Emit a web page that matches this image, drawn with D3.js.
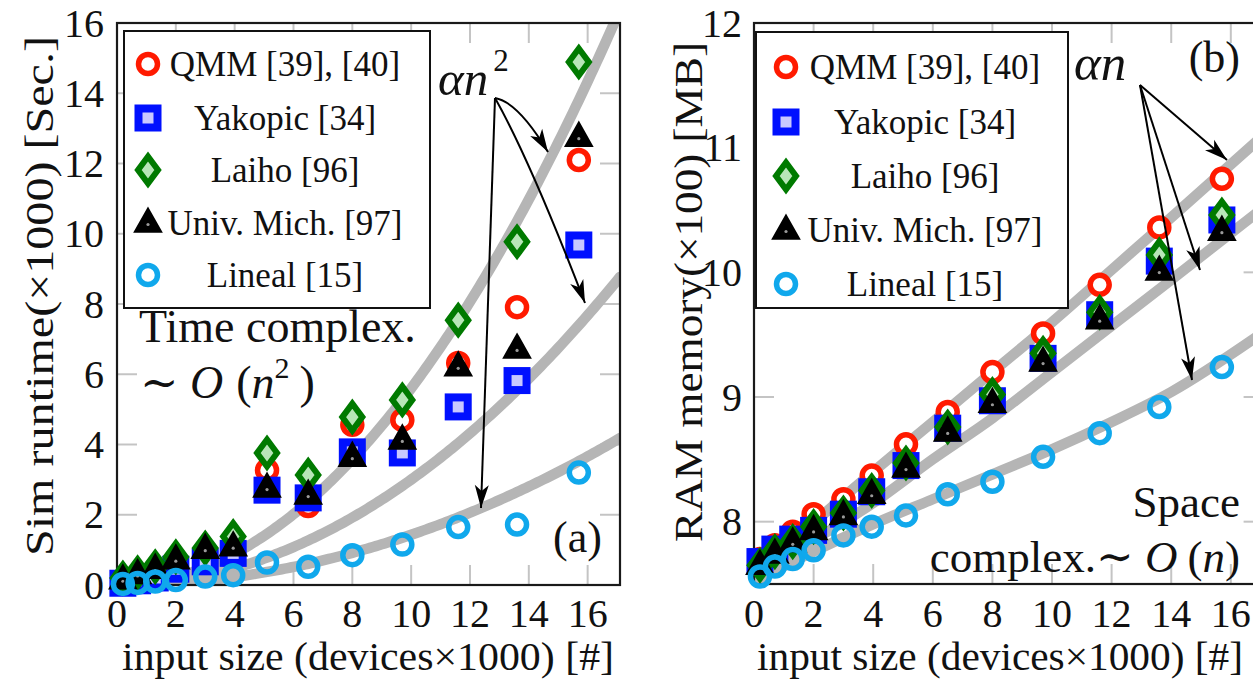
<!DOCTYPE html>
<html>
<head>
<meta charset="utf-8">
<script src="https://cdn.jsdelivr.net/npm/d3@7"></script>
<style>
  html, body { margin: 0; padding: 0; background: #fff; }
  svg { display: block; font-family: "Liberation Serif", "DejaVu Serif", serif; }
</style>
</head>
<body>
<svg id="chart" width="1253" height="684"></svg>
<script>
// ---- data ----
const seriesNames = ["QMM [39], [40]", "Yakopic [34]", "Laiho [96]", "Univ. Mich. [97]", "Lineal [15]"];
const devices = [0.2, 0.7, 1.3, 2, 3, 3.95, 5.1, 6.5, 8, 9.7, 11.6, 13.6, 15.7]; // ×1000

// simulation runtime (×1000 s)
const runtimeQMM     = [0.10, 0.20, 0.30, 0.50, 0.80, 1.00, 3.27, 2.25, 4.56, 4.70, 6.32, 7.91, 12.10];
const runtimeYakopic = [0.05, 0.12, 0.20, 0.45, 0.66, 0.90, 2.70, 2.48, 3.79, 3.76, 5.07, 5.82, 9.68];
const runtimeLaiho   = [0.20, 0.35, 0.52, 0.80, 1.05, 1.38, 3.76, 3.13, 4.78, 5.27, 7.54, 9.77, 14.89];
const runtimeMich    = [0.15, 0.30, 0.45, 0.72, 1.02, 1.09, 2.76, 2.56, 3.64, 4.13, 6.21, 6.72, 12.75];
const runtimeLineal  = [0.03, 0.06, 0.10, 0.14, 0.24, 0.28, 0.64, 0.52, 0.85, 1.15, 1.65, 1.72, 3.20];

// RAM memory (×100 MB)
const memoryQMM      = [7.70, 7.81, 7.92, 8.06, 8.18, 8.37, 8.62, 8.88, 9.20, 9.51, 9.90, 10.36, 10.75];
const memoryYakopic  = [7.68, 7.78, 7.86, 7.93, 8.06, 8.24, 8.45, 8.75, 8.97, 9.31, 9.66, 10.09, 10.42];
const memoryLaiho    = [7.65, 7.76, 7.84, 7.96, 8.07, 8.25, 8.47, 8.76, 9.02, 9.35, 9.68, 10.14, 10.46];
const memoryMich     = [7.65, 7.74, 7.83, 7.93, 8.05, 8.22, 8.43, 8.72, 8.95, 9.28, 9.62, 10.01, 10.33];
const memoryLineal   = [7.56, 7.64, 7.70, 7.77, 7.89, 7.96, 8.05, 8.22, 8.32, 8.52, 8.71, 8.92, 9.24];

// quadratic trend coefficients (alpha in alpha*n^2) for the runtime panel
const runtimeFitAlpha = [0.056, 0.030, 0.0143];
// linear trend bands for the memory panel
const memoryFitX      = [0, 2, 4, 6, 8, 10, 12, 14, 17.1];
const memoryFitUpper  = [7.56, 7.99, 8.40, 8.80, 9.20, 9.60, 10.02, 10.44, 11.10];
const memoryFitMiddle = [7.55, 7.85, 8.15, 8.50, 8.83, 9.20, 9.57, 9.94, 10.52];
const memoryFitLower  = [7.52, 7.76, 7.98, 8.18, 8.38, 8.58, 8.80, 9.04, 9.52];

const xTicks = [0, 2, 4, 6, 8, 10, 12, 14, 16];
const runtimeTicks = [0, 2, 4, 6, 8, 10, 12, 14, 16];
const memoryTicks = [8, 9, 10, 11, 12];

// ---- drawing ----
const svg = d3.select("#chart");
const defs = svg.append("defs");

defs.append("marker")
  .attr("id", "stealth")
  .attr("markerUnits", "userSpaceOnUse")
  .attr("viewBox", "-24 -8 26 16")
  .attr("refX", 0).attr("refY", 0)
  .attr("markerWidth", 26).attr("markerHeight", 16)
  .attr("orient", "auto")
  .append("path")
  .attr("d", "M0,0 L-23,-7 L-17,0 L-23,7 Z")
  .attr("fill", "#000");

const styles = [
  { shape: "circle",   stroke: "#ff1a00", fill: "#fff" },
  { shape: "square",   stroke: "#0010ff", fill: "#c8c8ff" },
  { shape: "diamond",  stroke: "#007a00", fill: "#b8e6b8" },
  { shape: "triangle", stroke: "#000",    fill: "#000" },
  { shape: "circle",   stroke: "#10a8ec", fill: "none" }
];

function drawMark(g, style, cx, cy) {
  const m = g.append("g").attr("transform", `translate(${cx},${cy})`);
  if (style.shape === "circle") {
    m.append("circle").attr("r", 9.5)
      .attr("fill", style.fill).attr("stroke", style.stroke).attr("stroke-width", 5.5);
  } else if (style.shape === "square") {
    m.append("rect").attr("x", -9.5).attr("y", -9.5).attr("width", 19).attr("height", 19)
      .attr("fill", style.fill).attr("stroke", style.stroke).attr("stroke-width", 8);
  } else if (style.shape === "diamond") {
    m.append("path").attr("d", "M0,-13.5 L10,0 L0,13.5 L-10,0 Z")
      .attr("fill", style.fill).attr("stroke", style.stroke).attr("stroke-width", 6)
      .attr("stroke-linejoin", "miter");
  } else {
    m.append("path").attr("d", "M0,-12 L11,7.5 L-11,7.5 Z")
      .attr("fill", style.fill).attr("stroke", style.stroke).attr("stroke-width", 4.5)
      .attr("stroke-linejoin", "miter");
    m.append("circle").attr("cy", 1.5).attr("r", 1.6).attr("fill", "#9a9a9a");
  }
}

const panels = [
  {
    id: "a",
    left: 117, right: 620, top: 23, bottom: 585,
    xDomain: [0, 17.1], yDomain: [0, 16], yTicks: runtimeTicks,
    yTickX: 104,
    series: [runtimeQMM, runtimeYakopic, runtimeLaiho, runtimeMich, runtimeLineal],
    yTitle: "Sim runtime(×1000) [Sec.]", yTitleX: 40, yTitleY: 296, yTitleLen: 520,
    xTitleX: 368, xTitleLen: 492,
    legend: { x: 124, y: 31, w: 306, h: 277, rows: [64, 118, 170, 223, 275], markX: 148, textX: 285 }
  },
  {
    id: "b",
    left: 754, right: 1263.6, top: 23, bottom: 584,
    xDomain: [0, 17.1], yDomain: [7.5, 12], yTicks: memoryTicks,
    yTickX: 742,
    series: [memoryQMM, memoryYakopic, memoryLaiho, memoryMich, memoryLineal],
    yTitle: "RAM memory(×100) [MB]", yTitleX: 689, yTitleY: 292, yTitleLen: 500,
    xTitleX: 1000, xTitleLen: 486,
    legend: { x: 756, y: 32, w: 312, h: 276, rows: [67, 122, 176, 230, 284], markX: 786, textX: 925 }
  }
];

panels.forEach(p => {
  const x = d3.scaleLinear().domain(p.xDomain).range([p.left, p.right]);
  const y = d3.scaleLinear().domain(p.yDomain).range([p.bottom, p.top]);
  const g = svg.append("g").attr("class", "panel-" + p.id);

  defs.append("clipPath").attr("id", "clip-" + p.id)
    .append("rect").attr("x", p.left).attr("y", p.top)
    .attr("width", p.right - p.left).attr("height", p.bottom - p.top);

  // inner tick marks on all four sides
  const tk = g.append("g").attr("stroke", "#c4c4c4").attr("stroke-width", 2);
  xTicks.forEach(t => {
    tk.append("line").attr("x1", x(t)).attr("x2", x(t)).attr("y1", p.bottom).attr("y2", p.bottom - 20);
    tk.append("line").attr("x1", x(t)).attr("x2", x(t)).attr("y1", p.top).attr("y2", p.top + 20);
  });
  p.yTicks.forEach(t => {
    tk.append("line").attr("y1", y(t)).attr("y2", y(t)).attr("x1", p.left).attr("x2", p.left + 20);
    tk.append("line").attr("y1", y(t)).attr("y2", y(t)).attr("x1", p.right).attr("x2", p.right - 20);
  });

  // trend bands
  const bands = g.append("g").attr("clip-path", `url(#clip-${p.id})`)
    .attr("fill", "none").attr("stroke", "#b5b5b5").attr("stroke-width", 10.5)
    .attr("stroke-linecap", "round");
  if (p.id === "a") {
    const ns = d3.range(0, 17.15, 0.1);
    runtimeFitAlpha.forEach(a => {
      bands.append("path")
        .attr("d", d3.line().x(n => x(n)).y(n => y(a * n * n))(ns));
    });
  } else {
    const line = d3.line().curve(d3.curveMonotoneX).x(d => x(d[0])).y(d => y(d[1]));
    [memoryFitUpper, memoryFitMiddle, memoryFitLower].forEach(vals => {
      bands.append("path").attr("d", line(memoryFitX.map((v, i) => [v, vals[i]])));
    });
  }

  // frame
  g.append("rect").attr("x", p.left).attr("y", p.top)
    .attr("width", p.right - p.left).attr("height", p.bottom - p.top)
    .attr("fill", "none").attr("stroke", "#1a1a1a").attr("stroke-width", 2.2);

  // markers
  p.series.forEach((vals, si) => {
    const sg = g.append("g");
    vals.forEach((v, i) => drawMark(sg, styles[si], x(devices[i]), y(v)));
  });

  // tick labels
  const tl = g.append("g").attr("font-size", 40).attr("fill", "#111");
  xTicks.forEach(t => {
    tl.append("text").attr("x", x(t)).attr("y", 627).attr("text-anchor", "middle").text(t);
  });
  p.yTicks.forEach(t => {
    tl.append("text").attr("x", p.yTickX).attr("y", y(t)).attr("dy", "0.34em")
      .attr("text-anchor", "end").text(t);
  });

  // axis titles
  g.append("text").attr("x", p.xTitleX).attr("y", 670).attr("text-anchor", "middle")
    .attr("font-size", 41).attr("fill", "#111")
    .attr("textLength", p.xTitleLen).attr("lengthAdjust", "spacingAndGlyphs")
    .text("input size (devices×1000) [#]");
  g.append("text").attr("transform", `translate(${p.yTitleX},${p.yTitleY}) rotate(-90)`)
    .attr("text-anchor", "middle").attr("dy", "0.32em")
    .attr("font-size", 41).attr("fill", "#111")
    .attr("textLength", p.yTitleLen).attr("lengthAdjust", "spacingAndGlyphs")
    .text(p.yTitle);

  // legend
  const L = p.legend;
  const lg = g.append("g");
  lg.append("rect").attr("x", L.x).attr("y", L.y).attr("width", L.w).attr("height", L.h)
    .attr("fill", "#fff").attr("stroke", "#111").attr("stroke-width", 2);
  seriesNames.forEach((name, i) => {
    drawMark(lg, styles[i], L.markX, L.rows[i]);
    lg.append("text").attr("x", L.textX).attr("y", L.rows[i]).attr("dy", "0.33em")
      .attr("text-anchor", "middle").attr("font-size", 35).attr("fill", "#111").text(name);
  });
});

// ---- annotations ----
const ann = svg.append("g").attr("fill", "#111");
const arrows = svg.append("g").attr("fill", "none").attr("stroke", "#000")
  .attr("stroke-width", 2).attr("marker-end", "url(#stealth)");

// panel (a)
const tA = ann.append("text").attr("x", 438).attr("y", 95).attr("font-size", 49);
tA.append("tspan").attr("font-style", "italic").text("αn");
tA.append("tspan").attr("dx", 5).attr("dy", -24).attr("font-size", 31).text("2");

arrows.append("path").attr("d", "M495,98 Q518,102 548,152");
arrows.append("path").attr("d", "M495,98 Q530,160 585,303");
arrows.append("path").attr("d", "M495,98 L481,508");

ann.append("text").attr("x", 139).attr("y", 342).attr("font-size", 46).text("Time complex.");
const oA = ann.append("text").attr("x", 140).attr("y", 398).attr("font-size", 46);
oA.append("tspan").text("∼ ");
oA.append("tspan").attr("font-style", "italic").text("O");
oA.append("tspan").attr("dx", 13).text("(");
oA.append("tspan").attr("font-style", "italic").text("n");
oA.append("tspan").attr("dy", -20).attr("font-size", 30).text("2");
oA.append("tspan").attr("dx", 10).attr("dy", 20).text(")");
ann.append("text").attr("x", 553).attr("y", 552).attr("font-size", 44).text("(a)");

// panel (b)
ann.append("text").attr("x", 1074).attr("y", 80).attr("font-size", 51)
  .attr("font-style", "italic").text("αn");
arrows.append("path").attr("d", "M1140,85 L1227,160");
arrows.append("path").attr("d", "M1140,85 L1200,270");
arrows.append("path").attr("d", "M1140,85 L1192,380");
ann.append("text").attr("x", 1240).attr("y", 72).attr("text-anchor", "end").attr("font-size", 44).text("(b)");
ann.append("text").attr("x", 1240).attr("y", 517).attr("text-anchor", "end").attr("font-size", 45).text("Space");
const oB = ann.append("text").attr("x", 1240).attr("y", 572).attr("text-anchor", "end").attr("font-size", 45);
oB.append("tspan").text("complex.∼ ");
oB.append("tspan").attr("font-style", "italic").text("O");
oB.append("tspan").attr("dx", 10).text("(");
oB.append("tspan").attr("font-style", "italic").text("n");
oB.append("tspan").text(")");
</script>
</body>
</html>
